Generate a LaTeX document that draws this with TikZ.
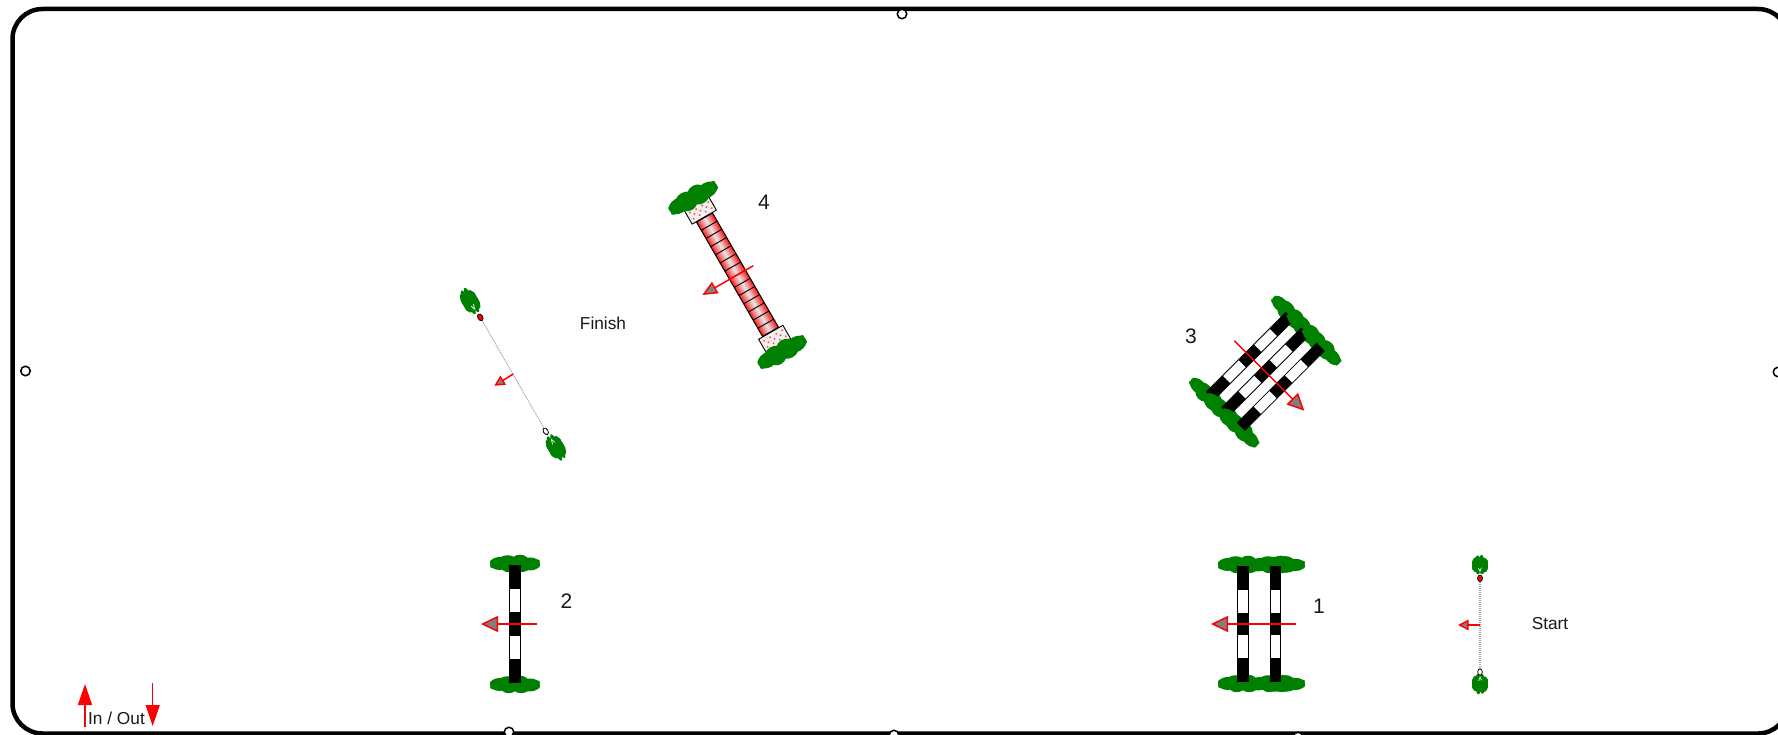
\documentclass[tikz,border=0pt]{standalone}
\usepackage{fontspec}
\setmainfont{Liberation Sans}
\usetikzlibrary{arrows.meta}
\definecolor{bushgreen}{RGB}{0,128,0}
\definecolor{barmid}{RGB}{232,226,226}
\newcommand{\bushblob}[2]{%
  \begin{scope}[xscale=#1,yscale=#2]
  \foreach \cx/\cy/\rx/\ry in {-.62/0/.38/.72,-.25/.12/.36/.85,.2/-.08/.38/.9,.6/.05/.4/.72,-.3/-.1/.4/.82,.25/.1/.4/.86,
     .88/.25/.12/.25,-.9/-.2/.1/.22,-.88/.3/.12/.22,.9/-.25/.1/.2}{
    \fill[bushgreen] (\cx,\cy) ellipse (\rx pt and \ry pt);
  }
  \end{scope}%
}
% striped hurdle: centre x, centre y, rotation, length
\newcommand{\hurdle}[4]{%
  \begin{scope}[shift={(#1,#2)},rotate=#3]
    \pgfmathsetmacro{\hl}{#4/2}
    \begin{scope}[shift={(0,-\hl-1.5)}]\bushblob{25}{9}\end{scope}
    \begin{scope}[shift={(0,\hl+1.5)}]\bushblob{25}{9}\end{scope}
    \fill[black] (-5.9,-\hl) rectangle (5.9,\hl);
    \pgfmathsetmacro{\aa}{#4*0.207-\hl}
    \pgfmathsetmacro{\ab}{#4*0.402-\hl}
    \pgfmathsetmacro{\ac}{#4*0.598-\hl}
    \pgfmathsetmacro{\ad}{#4*0.793-\hl}
    \fill[white] (-4.9,\aa) rectangle (4.9,\ab);
    \fill[white] (-4.9,\ac) rectangle (4.9,\ad);
  \end{scope}%
}
% course marker pole end
\newcommand{\polebush}[5]{%
  \begin{scope}[shift={(#1,#2)},rotate=#3]
    \bushblob{#4}{#5}
    \draw[white,line width=.7] (-1.6,#5*.35) -- (0,#5*.65) -- (1.4,#5*.3);
  \end{scope}%
}
\tikzset{
  flow/.style={draw=red,line width=1.5},
  bigtip/.style={-{Triangle[length=17pt,width=16pt,fill=gray,line width=1.5pt]}},
  midtip/.style={-{Triangle[length=15pt,width=13pt,fill=gray,line width=1.4pt]}},
  smalltip/.style={-{Triangle[length=10.5pt,width=10.5pt,fill=gray,line width=1.4pt]}},
  inout/.style={draw=red,line width=1.5,-{Triangle[length=21pt,width=14pt,fill=red]}},
  handle/.style={circle,draw=black,fill=white,line width=1.5,minimum size=9.5pt,inner sep=0pt},
  lbl/.style={font=\fontsize{21}{24}\selectfont,text=black!90,inner sep=0pt},
  sublbl/.style={font=\fontsize{17.3}{20}\selectfont,text=black!90,inner sep=0pt},
  pole/.style={draw=gray!70,line width=1.1,dash pattern=on 1pt off 1pt},
}
\begin{document}
\begin{tikzpicture}[x=1pt,y=-1pt]
\useasboundingbox (0,0) rectangle (1778,735);
\fill[white] (0,0) rectangle (1778,735);
\clip (0,0) rectangle (1778,735);
% arena
\draw[black,line width=4.5,rounded corners=30] (12.5,9) rectangle (1788,733.5);
\node[handle] (hTop) at (902,14) {};
\node[handle] (hLeft) at (25.5,371) {};
\node[handle] (hRight) at (1778,372) {};
\node[handle] (hB1) at (509,732) {};
\node[handle] (hB2) at (894,735) {};
\node[handle] (hB3) at (1298,737) {};

% In / Out
\coordinate (inA) at (85,727); \coordinate (inB) at (85,684);
\coordinate (outA) at (152.7,683); \coordinate (outB) at (152.7,726);
\draw[inout] (inA) -- (inB);
\draw[inout] (outA) -- (outB);
\node[sublbl] (inoutLabel) at (116.5,718) {In / Out};

% Obstacle 2
\hurdle{515}{624}{0}{118}
\coordinate (a2s) at (537,624); \coordinate (a2e) at (481,624);
\draw[flow,bigtip] (a2s) -- (a2e);
\node[lbl] (n2) at (566.5,601) {2};

% Obstacle 1
\begin{scope}[shift={(1281,564.5)}]\bushblob{24}{8.5}\end{scope}
\begin{scope}[shift={(1281,683.5)}]\bushblob{24}{8.5}\end{scope}
\hurdle{1243}{624}{0}{116}
\hurdle{1275.5}{624}{0}{116}
\coordinate (a1s) at (1296,624); \coordinate (a1e) at (1211,624);
\draw[flow,bigtip] (a1s) -- (a1e);
\node[lbl] (n1) at (1319,606) {1};

% Obstacle 3
\hurdle{1250}{356}{-45}{113}
\hurdle{1265.5}{371.5}{-45}{113}
\hurdle{1280.8}{386.8}{-45}{113}
\coordinate (a3s) at (1234.3,340.7); \coordinate (a3e) at (1304.3,410.7);
\draw[flow,bigtip] (a3s) -- (a3e);
\node[lbl] (n3) at (1191,336) {3};

% Obstacle 4
\begin{scope}[shift={(737.5,274.7)},rotate=30]
  \draw[black,line width=.9,fill=gray!12] (-14,-82) rectangle (14,-66.5);
  \draw[black,line width=.9,fill=gray!12] (-14,66.5) rectangle (14,82);
  \foreach \yy in {-74,74}{
    \foreach \dx in {-10,-3,4,11}{\fill[red!70] (\dx,\yy-3.5) circle (1.1);}
    \foreach \dx in {-7,0,7}{\fill[red!70] (\dx,\yy) circle (1.1);}
    \foreach \dx in {-10,-3,4,11}{\fill[red!70] (\dx,\yy+3.5) circle (1.1);}
  }
  \foreach \i in {0,...,29}{
    \pgfmathsetmacro{\pc}{100*abs((\i+.5)/15-1)^1.1}
    \pgfmathsetmacro{\xa}{-9.2+\i*.6133}
    \pgfmathsetmacro{\xb}{\xa+.71}
    \fill[red!\pc!barmid] (\xa,-66) rectangle (\xb,66);
  }
  \draw[black,line width=1] (-9.2,-66) rectangle (9.2,66);
  \foreach \k in {1,...,13}{\draw[black,line width=.9] (-9.2,-66+\k*9.43) -- (9.2,-66+\k*9.43);}
  \begin{scope}[shift={(0,-89)}]\bushblob{27}{10.5}\end{scope}
  \begin{scope}[shift={(0,89)}]\bushblob{27}{10.5}\end{scope}
\end{scope}
\coordinate (a4s) at (753.3,265.7); \coordinate (a4e) at (702.3,295);
\draw[flow,midtip] (a4s) -- (a4e);
\node[lbl] (n4) at (764,202.7) {4};

% Start
\coordinate (startTop) at (1480,578.3); \coordinate (startBot) at (1480,672);
\polebush{1480}{564.7}{0}{8}{10}
\polebush{1480}{684}{180}{8}{10.5}
\draw[pole] (startTop) -- (startBot);
\fill[red,draw=black,line width=.8] (startTop) ellipse (2.5 and 3.2);
\draw[black,fill=white,line width=.8] (startBot) ellipse (2.3 and 3.2);
\coordinate (asS) at (1480,625); \coordinate (asE) at (1458,625);
\draw[flow,smalltip] (asS) -- (asE);
\node[sublbl] (startLabel) at (1550,624) {Start};

% Finish
\coordinate (finTop) at (480.3,317.3); \coordinate (finBot) at (545.7,431.3);
\polebush{470}{301}{30}{8}{14.5}
\polebush{556}{447.5}{210}{8}{14.5}
\draw[pole] (finTop) -- (finBot);
\fill[red,draw=black,line width=.8,rotate around={30:(finTop)}] (finTop) ellipse (2.5 and 3.6);
\draw[black,fill=white,line width=.8,rotate around={30:(finBot)}] (finBot) ellipse (2.3 and 3.6);
\coordinate (afS) at (513.3,374); \coordinate (afE) at (494.3,385.7);
\draw[flow,smalltip] (afS) -- (afE);
\node[sublbl] (finishLabel) at (603,323) {Finish};
\end{tikzpicture}
\end{document}
